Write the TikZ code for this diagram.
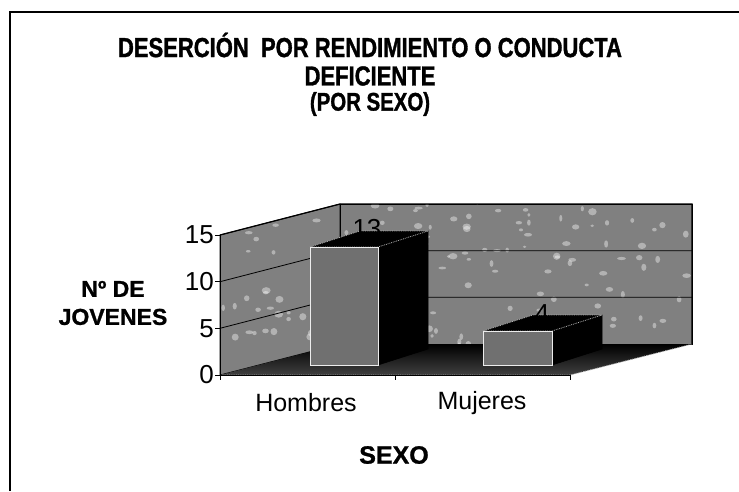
\documentclass[tikz,border=0pt]{standalone}
\usepackage{fontspec}
\setmainfont{Liberation Sans}
\newfontfamily\narrowbf{Liberation Sans Bold}[FakeStretch=0.8,FakeBold=1.2]
\newfontfamily\heavybf{Liberation Sans Bold}[FakeBold=1]
\definecolor{wallgray}{gray}{0.50}
\definecolor{barface}{gray}{0.44}
\begin{document}
\begin{tikzpicture}[x=1pt,y=-1pt,
  wall/.style={fill=wallgray, draw=black, line width=0.8pt},
  grid/.style={draw=black, line width=0.8pt},
  face/.style={fill=barface, draw=gray!15, line width=1pt},
  dark/.style={fill=black, draw=black, line width=0.6pt},
  topface/.style={fill=black, draw=gray!60, densely dotted, line width=0.8pt},
  axis/.style={draw=black, line width=0.8pt},
  speck/.style={fill=white, opacity=0.4},
  num/.style={font=\fontsize{26}{30}\selectfont, inner sep=0pt},
  cat/.style={font=\fontsize{25}{30}\selectfont, inner sep=0pt},
  bold/.style={font=\fontsize{23}{28}\selectfont\heavybf, inner sep=0pt, align=center},
  ttl/.style={font=\fontsize{27.5}{31}\selectfont\narrowbf, inner sep=0pt, align=center}]
\useasboundingbox (0,0) rectangle (739,491);
\fill[white] (0,0) rectangle (739,491);
% frame
\draw[line width=2pt] (10,491) -- (10,12) -- (739,12);
% title
\node[ttl] (title) at (370,45) {DESERCIÓN\ \ POR RENDIMIENTO O CONDUCTA};
\node[ttl] (title2) at (370,76) {DEFICIENTE};
\node[ttl, font=\fontsize{25.5}{28}\selectfont\narrowbf] (title3) at (370,104) {(POR SEXO)};
% geometry
\coordinate (F0) at (220,375);
\coordinate (F15) at (220,235);
\coordinate (B0) at (340,344);
\coordinate (B15) at (340,204);
\coordinate (R0) at (692,344);
\coordinate (R15) at (692,204);
\coordinate (FR) at (570,375);
% walls
\path[wall] (F0) -- (F15) -- (B15) -- (B0) -- cycle;
\path[wall] (B0) -- (B15) -- (R15) -- (R0) -- cycle;
% speckles on walls
\begin{scope}
\clip (F0) -- (F15) -- (B15) -- (R15) -- (R0) -- (B0) -- cycle;
\pgfmathsetseed{7}
\foreach \i in {1,...,150} {
  \pgfmathsetmacro{\sx}{220+472*rnd}
  \pgfmathsetmacro{\sy}{200+150*rnd}
  \pgfmathsetmacro{\sr}{1.5+3*rnd}
  \pgfmathsetmacro{\sq}{1.2+2.5*rnd}
  \fill[speck] (\sx,\sy) ellipse[x radius=\sr, y radius=\sq];
}
\end{scope}
% floor
\shade[top color=black, bottom color=black!75] (F0) -- (B0) -- (R0) -- (FR) -- cycle;
\draw[gray!60, densely dotted, line width=0.8pt] (F0) -- (FR) -- (R0);
% gridlines
\draw[grid] (220,328.3) -- (340,297.3) -- (692,297.3);
\draw[grid] (220,281.7) -- (340,250.7) -- (692,250.7);
\draw[grid, line width=1.2pt] (F15) -- (B15) -- (R15) -- (R0);
\draw[grid] (B15) -- (B0);
% bar Hombres
\path[dark] (378,365) -- (428,349) -- (428,231) -- (378,247) -- cycle;
\path[topface] (310,247) -- (360,231) -- (428,231) -- (378,247) -- cycle;
\path[face] (310,247) rectangle (378,365);
\node[num] (v13) at (367,229) {13};
% bar Mujeres
\path[dark] (552,365) -- (602,349) -- (602,315) -- (552,331) -- cycle;
\path[topface] (483,331) -- (533,315) -- (602,315) -- (552,331) -- cycle;
\path[face] (483,331) rectangle (552,365);
\node[num] (v4) at (542,314) {4};
% axes
\draw[axis] (F15) -- (F0) -- (FR);
\foreach \y in {235,281.7,328.3,375} \draw[axis] (215,\y) -- (220,\y);
\foreach \x in {220,395,570} \draw[axis] (\x,375) -- (\x,380);
\node[num, anchor=east] (y15) at (214,235) {15};
\node[num, anchor=east] (y10) at (214,281.7) {10};
\node[num, anchor=east] (y5) at (214,328.3) {5};
\node[num, anchor=east] (y0) at (214,375) {0};
% categories
\node[cat] (hom) at (306,403) {Hombres};
\node[cat] (muj) at (482,403) {Mujeres};
% axis titles
\node[bold] (ylab) at (113,303) {Nº DE\\JOVENES};
\node[bold, font=\fontsize{25}{30}\selectfont\heavybf] (xlab) at (394,455) {SEXO};
\end{tikzpicture}
\end{document}
